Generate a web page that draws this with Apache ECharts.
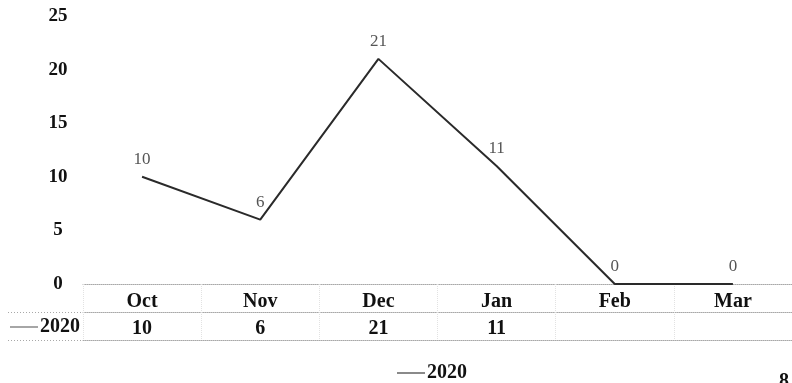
<!DOCTYPE html>
<html>
<head>
<meta charset="utf-8">
<script src="https://cdn.jsdelivr.net/npm/echarts@6/dist/echarts.min.js"></script>
<style>
  html, body { margin: 0; padding: 0; background: #fff; }
  #chart { width: 792px; height: 383px; }
</style>
</head>
<body>
<div id="chart"></div>
<script>
// Monthly counts for the 2020 season
const months = ['Oct', 'Nov', 'Dec', 'Jan', 'Feb', 'Mar'];
const seriesName = '2020';
const counts2020 = [10, 6, 21, 11, 0, 0];
const yTicks = { min: 0, max: 25, interval: 5 };

// Data-table row: zero months are left blank
const tableCells = counts2020.map(v => (v > 0 ? String(v) : ''));

const SERIF = '"Liberation Serif", "Times New Roman", serif';
const dotted = { type: 'dotted', color: '#a8a8a8', width: 1 };
const faint = { type: 'dotted', color: '#e2e2e2', width: 1 };

const chart = echarts.init(document.getElementById('chart'), null, { renderer: 'canvas' });

chart.setOption({
  animation: false,
  backgroundColor: '#fff',
  grid: { left: 83, right: -11, top: 16, bottom: 99, containLabel: false },
  xAxis: [
    {
      type: 'category',
      data: months,
      boundaryGap: true,
      axisLine: { show: true, lineStyle: dotted },
      axisTick: { show: true, length: 28, lineStyle: faint },
      axisLabel: {
        margin: 8,
        fontFamily: SERIF, fontSize: 20, fontWeight: 'bold', color: '#111'
      },
      splitLine: { show: false }
    },
    {
      type: 'category',
      data: months,
      position: 'bottom',
      offset: 28,
      boundaryGap: true,
      axisLine: { show: true, lineStyle: dotted },
      axisTick: { show: true, length: 28, lineStyle: faint },
      axisLabel: {
        margin: 7,
        formatter: (v, i) => tableCells[i],
        fontFamily: SERIF, fontSize: 20, fontWeight: 'bold', color: '#111'
      }
    },
    {
      type: 'category',
      data: months,
      position: 'bottom',
      offset: 56,
      axisLine: { show: true, lineStyle: dotted },
      axisTick: { show: false },
      axisLabel: { show: false }
    }
  ],
  yAxis: {
    type: 'value',
    min: yTicks.min,
    max: yTicks.max,
    interval: yTicks.interval,
    axisLine: { show: false },
    axisTick: { show: false },
    splitLine: { show: false },
    axisLabel: {
      margin: 25,
      align: 'center',
      fontFamily: SERIF, fontSize: 19, fontWeight: 'bold', color: '#111'
    }
  },
  legend: {
    left: 392,
    top: 358,
    itemWidth: 28,
    itemHeight: 2,
    itemGap: 4,
    data: [{ name: seriesName, icon: 'rect', itemStyle: { color: '#8a8a8a' } }],
    textStyle: { fontFamily: SERIF, fontSize: 20, fontWeight: 'bold', color: '#111', padding: [0, 0, 0, -3] }
  },
  series: [
    {
      name: seriesName,
      type: 'line',
      xAxisIndex: 0,
      data: counts2020,
      symbol: 'circle',
      symbolSize: 0.01,
      showSymbol: true,
      lineStyle: { color: '#2a2a2a', width: 2 },
      itemStyle: { color: 'rgba(0,0,0,0)' },
      label: {
        show: true,
        position: 'top',
        distance: 9,
        fontFamily: SERIF, fontSize: 17, color: '#555'
      }
    }
  ],
  graphic: [
    // left extension of the data-table borders
    { type: 'line', shape: { x1: 8, y1: 312.5, x2: 83, y2: 312.5 }, style: { stroke: '#a8a8a8', lineDash: [1, 2] } },
    { type: 'line', shape: { x1: 8, y1: 340.5, x2: 83, y2: 340.5 }, style: { stroke: '#a8a8a8', lineDash: [1, 2] } },
    // row header: series key + name
    { type: 'line', shape: { x1: 10, y1: 327, x2: 38, y2: 327 }, style: { stroke: '#888', lineWidth: 1.5 } },
    {
      type: 'text', left: 40, top: 317,
      style: { text: seriesName, font: 'bold 20px ' + SERIF, fill: '#111' }
    },
    // page number at the bottom corner
    {
      type: 'text', left: 779, top: 372,
      style: { text: '8', font: 'bold 20px ' + SERIF, fill: '#111' }
    }
  ]
});
</script>
</body>
</html>
